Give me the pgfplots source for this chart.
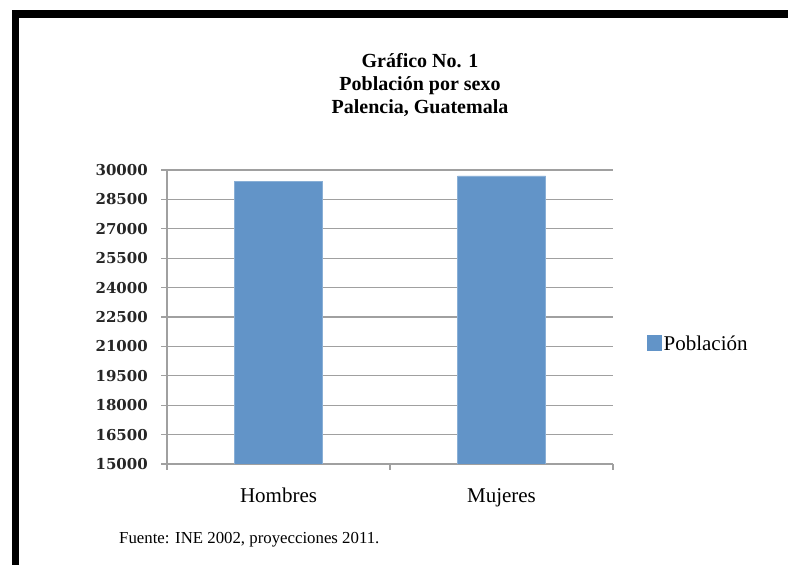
\documentclass[border=0pt]{standalone}
\usepackage{fontspec}
\setmainfont{Liberation Serif}
\newfontfamily\tickfam{DejaVu Serif}
\usepackage{pgfplots}
\pgfplotsset{compat=1.18}
\definecolor{barblue}{RGB}{98,148,200}
\definecolor{gridgray}{RGB}{160,160,160}
\begin{document}
\begin{tikzpicture}
\useasboundingbox (0,0) rectangle (788bp,565bp);
\fill[white] (0,0) rectangle (788bp,565bp);
% frame
\fill[black] (12bp,547bp) rectangle (788bp,555bp);
\fill[black] (12bp,0bp) rectangle (19bp,555bp);
% title
\node[anchor=base,font=\bfseries\fontsize{20bp}{23bp}\selectfont,inner sep=0pt] at (420bp,497.5bp) {Gráfico No. 1};
\node[anchor=base,font=\bfseries\fontsize{20bp}{23bp}\selectfont,inner sep=0pt] at (420bp,474.5bp) {Población por sexo};
\node[anchor=base,font=\bfseries\fontsize{20bp}{23bp}\selectfont,inner sep=0pt] at (420bp,451.5bp) {Palencia, Guatemala};
% footer
\node[anchor=base west,font=\fontsize{16.8bp}{19bp}\selectfont,inner sep=0pt] at (119bp,22bp) {Fuente: INE 2002, proyecciones 2011.};
\begin{axis}[
  at={(167bp,101bp)}, anchor=south west,
  width=446bp, height=294bp, scale only axis,
  xmin=0, xmax=2, ymin=15000, ymax=30000,
  scaled y ticks=false,
  axis x line*=bottom, axis y line*=left,
  axis line style={gridgray, line width=1.3bp},
  ytick={15000,16500,18000,19500,21000,22500,24000,25500,27000,28500,30000},
  yticklabels={15000,16500,18000,19500,21000,22500,24000,25500,27000,28500,30000},
  yticklabel style={font=\tickfam\bfseries\fontsize{15bp}{18bp}\selectfont, text=black!85, inner sep=0pt, anchor=east, xshift=-13bp},
  ymajorgrids, grid style={gridgray, line width=1.3bp},
  xtick={0,1,2}, xticklabels={},
  tick align=outside, tick style={gridgray, line width=1.3bp},
  major tick length=6bp,
  extra x ticks={0.5,1.5},
  extra x tick labels={Hombres,Mujeres},
  extra x tick style={major tick length=0pt, grid=none,
    xticklabel style={anchor=base, inner sep=0pt, yshift=-39bp, font=\fontsize{21bp}{24bp}\selectfont}},
  ybar, bar width=88bp,
  legend style={draw=none, fill=none, inner sep=0pt, outer sep=0pt,
    at={(1.0762,0.4100)}, anchor=west,
    nodes={inner sep=0pt, font=\fontsize{21bp}{24bp}\selectfont}},
  legend image code/.code={\fill[barblue] (0bp,-6bp) rectangle (14bp,9bp);},
]
\addplot[fill=barblue, draw=barblue!75!white, line width=0.6bp, bar shift=0pt] coordinates {(0.5,29400) (1.5,29700)};
\addlegendentry{\hspace{2bp}Población}
\end{axis}
\end{tikzpicture}
\end{document}
